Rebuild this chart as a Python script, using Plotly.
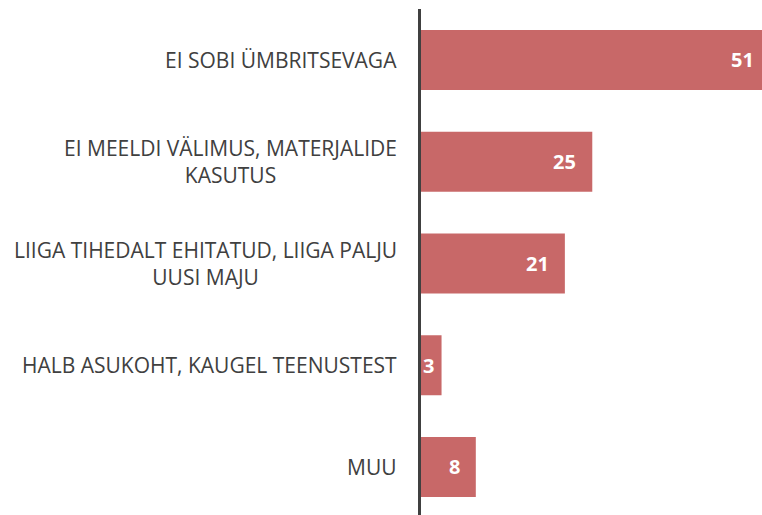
import plotly.graph_objects as go

categories = ["EI SOBI ÜMBRITSEVAGA",
              "EI MEELDI VÄLIMUS, MATERJALIDE<br>KASUTUS",
              "LIIGA TIHEDALT EHITATUD, LIIGA PALJU<br>UUSI MAJU",
              "HALB ASUKOHT, KAUGEL TEENUSTEST",
              "MUU"]
values = [51, 25, 21, 3, 8]

BAR = "#C86868"
TXT = "#404040"
FONT = "Open Sans"

fig = go.Figure(go.Bar(
    y=categories, x=values, orientation="h",
    marker=dict(color=BAR, line=dict(width=0)),
    width=0.59, hoverinfo="skip",
))

annotations = []
for c, v in zip(categories, values):
    annotations.append(dict(
        x=v, y=c, xref="x", yref="y", text=f"<b>{v}</b>",
        xanchor="right", yanchor="middle", showarrow=False,
        xshift=-14 if v > 5 else -6,
        font=dict(family=FONT, size=20, color="white")))
    annotations.append(dict(
        x=0, y=c, xref="paper", yref="y", text=c,
        xanchor="right", yanchor="middle", align="center", showarrow=False,
        xshift=-22,
        font=dict(family=FONT, size=21, color=TXT)))

fig.update_layout(
    width=780, height=515,
    margin=dict(l=421, r=0, t=9, b=0),
    paper_bgcolor="white", plot_bgcolor="white",
    showlegend=False,
    annotations=annotations,
    xaxis=dict(range=[0, 52.4], visible=False, fixedrange=True),
    yaxis=dict(range=[4.472, -0.501], showticklabels=False, ticks="",
               showgrid=False, zeroline=False, showline=True,
               linecolor=TXT, linewidth=3, fixedrange=True),
)

fig.write_html("out.html", config={"displayModeBar": False},
               post_script="document.body.style.margin='0';document.body.style.overflow='hidden';")
